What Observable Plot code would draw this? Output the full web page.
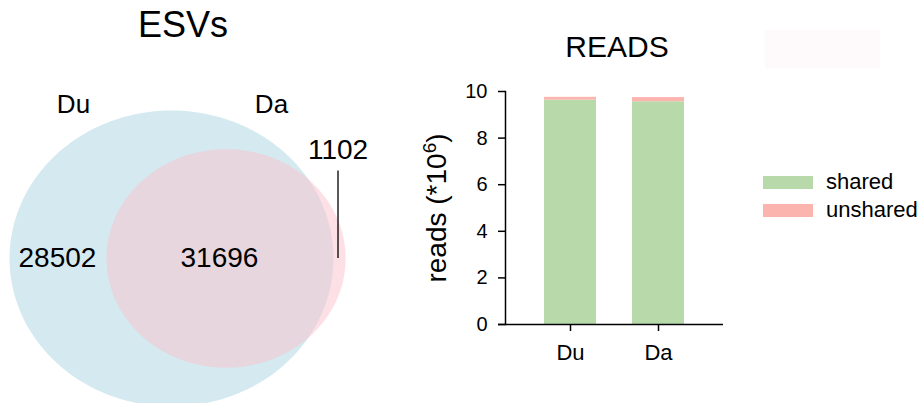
<!DOCTYPE html>
<html>
<head>
<meta charset="utf-8">
<script src="https://cdn.jsdelivr.net/npm/d3@7"></script>
<script src="https://cdn.jsdelivr.net/npm/@observablehq/plot@0.6"></script>
<style>
  html, body { margin: 0; padding: 0; background: #fff; }
  #page { position: relative; width: 921px; height: 403px; overflow: hidden; font-family: "Liberation Sans", Arial, sans-serif; color: #000; }
  #page svg { position: absolute; }
  .txt { position: absolute; line-height: 1; white-space: nowrap; z-index: 2; }
  .sw { position: absolute; width: 50px; height: 13px; z-index: 2; }
</style>
</head>
<body>
<div id="page"></div>
<script>
// ---- ESV counts (Venn) ----
const setNames = ["Du", "Da"];
const duOnly = 28502;
const shared = 31696;
const daOnly = 1102;

// ---- Reads per sample, in millions ----
const samples = ["Du", "Da"];
const readTypes = ["shared", "unshared"];
const sharedReads = [9.63, 9.56];
const unsharedReads = [0.12, 0.18];
const yTicks = [0, 2, 4, 6, 8, 10];

const page = document.getElementById("page");
const font = "'Liberation Sans', Arial, sans-serif";

// ---------- Venn: area-proportional circles ----------
const rA = Math.sqrt((duOnly + shared) / Math.PI);
const rB = Math.sqrt((shared + daOnly) / Math.PI);

function lensArea(d, r1, r2) {
  if (d >= r1 + r2) return 0;
  if (d <= Math.abs(r1 - r2)) return Math.PI * Math.min(r1, r2) ** 2;
  const a1 = Math.acos((d * d + r1 * r1 - r2 * r2) / (2 * d * r1));
  const a2 = Math.acos((d * d + r2 * r2 - r1 * r1) / (2 * d * r2));
  return r1 * r1 * (a1 - Math.sin(2 * a1) / 2) + r2 * r2 * (a2 - Math.sin(2 * a2) / 2);
}
// centre distance giving the shared area (bisection)
let lo = Math.abs(rA - rB), hi = rA + rB;
for (let i = 0; i < 80; i++) {
  const mid = (lo + hi) / 2;
  if (lensArea(mid, rA, rB) > shared) lo = mid; else hi = mid;
}
const dist = (lo + hi) / 2;
const cA = 0, cB = dist;

function ring(name, cx, r) {
  return d3.range(0, 361, 2).map(a => ({
    set: name,
    x: cx + r * Math.cos(a * Math.PI / 180),
    y: r * Math.sin(a * Math.PI / 180)
  }));
}

// pixel density of the Venn panel (x and y differ, giving slightly oval circles)
const kx = 162 / rA, ky = 148 / rA;
const vennW = 380, vennH = 403, ox = 171, oy = 258;

const setLabels = [
  {t: setNames[0], x: cA - 0.605 * rA, y: 1.04 * rA},
  {t: setNames[1], x: cB + 0.38 * rB, y: 1.04 * rA}
];
const leaderX = cB + rB - 6.5;
const countLabels = [
  {t: String(duOnly), x: cA - 0.704 * rA, y: 0},
  {t: String(shared), x: cB - 0.055 * rB, y: 0},
  {t: String(daOnly), x: leaderX, y: 0.99 * rB}
];

const venn = Plot.plot({
  width: vennW, height: vennH,
  margin: 0,
  style: {background: "transparent", fontFamily: font},
  x: {domain: [-ox / kx, (vennW - ox) / kx], axis: null},
  y: {domain: [-(vennH - oy) / ky, oy / ky], axis: null},
  marks: [
    Plot.line(ring("Du", cA, rA), {x: "x", y: "y", fill: "#d5eaf0", stroke: "none", curve: "linear-closed"}),
    Plot.line(ring("Da", cB, rB), {x: "x", y: "y", fill: "#fbc1cb", fillOpacity: 0.5, stroke: "none", curve: "linear-closed"}),
    Plot.ruleX([leaderX], {y1: 0, y2: 0.80 * rB, stroke: "#000", strokeWidth: 1.3}),
    Plot.text(setLabels, {x: "x", y: "y", text: "t", fontSize: 26, fill: "#000"}),
    Plot.text(countLabels, {x: "x", y: "y", text: "t", fontSize: 28, fill: "#000"})
  ]
});
venn.style.left = "0px";
venn.style.top = "0px";
page.appendChild(venn);

// ---------- Stacked reads bars ----------
const rows = [];
samples.forEach((s, i) => {
  rows.push({sample: s, type: readTypes[0], value: sharedReads[i]});
  rows.push({sample: s, type: readTypes[1], value: unsharedReads[i]});
});
const barColors = ["#b8daab", "#fbb4ae"];

const bars = Plot.plot({
  width: 340, height: 300,
  marginLeft: 105, marginRight: 17, marginTop: 21, marginBottom: 46,
  style: {background: "transparent", fontFamily: font, fontSize: "20px", color: "#000"},
  x: {domain: samples, paddingInner: 0.409, paddingOuter: 0.443, label: null},
  y: {domain: [0, 10], label: null},
  color: {domain: readTypes, range: barColors},
  marks: [
    Plot.barY(rows, {x: "sample", y: "value", fill: "type"}),
    Plot.frame({anchor: "left", stroke: "#000", strokeWidth: 1.5}),
    Plot.ruleY([0], {insetLeft: -7, stroke: "#000", strokeWidth: 1.5}),
    Plot.axisY({ticks: yTicks, tickSize: 7, tickPadding: 11, fontSize: 20, strokeWidth: 1.5, label: null}),
    Plot.axisX({tickSize: 7, tickPadding: 13, fontSize: 22, strokeWidth: 1.5, label: null})
  ]
});
bars.style.left = "400px";
bars.style.top = "70px";
page.appendChild(bars);

// ---------- titles, axis label, legend ----------
function addText(html, left, top, size, extra) {
  const el = document.createElement("div");
  el.className = "txt";
  el.innerHTML = html;
  el.style.left = left + "px";
  el.style.top = top + "px";
  el.style.fontSize = size + "px";
  if (extra) Object.assign(el.style, extra);
  page.appendChild(el);
  return el;
}

addText("ESVs", 183, 7, 36, {transform: "translateX(-50%)"});
addText("READS", 617, 31.9, 30, {transform: "translateX(-50%)"});
addText("reads (*10<sup style=\"font-size:0.68em;vertical-align:0.55em;line-height:0\">6</sup>)", 437, 207.5, 28,
        {transform: "translate(-50%, -50%) rotate(-90deg)"});

// faint panel behind the legend area
const panel = document.createElement("div");
panel.style.cssText = "position:absolute;left:765px;top:30px;width:115px;height:38px;background:#fefafb;z-index:1";
page.appendChild(panel);

readTypes.forEach((t, i) => {
  const sw = document.createElement("div");
  sw.className = "sw";
  sw.style.left = "763px";
  sw.style.top = (176 + i * 28) + "px";
  sw.style.background = barColors[i];
  page.appendChild(sw);
  addText(t, 826, 171.4 + i * 28, 22);
});
</script>
</body>
</html>
